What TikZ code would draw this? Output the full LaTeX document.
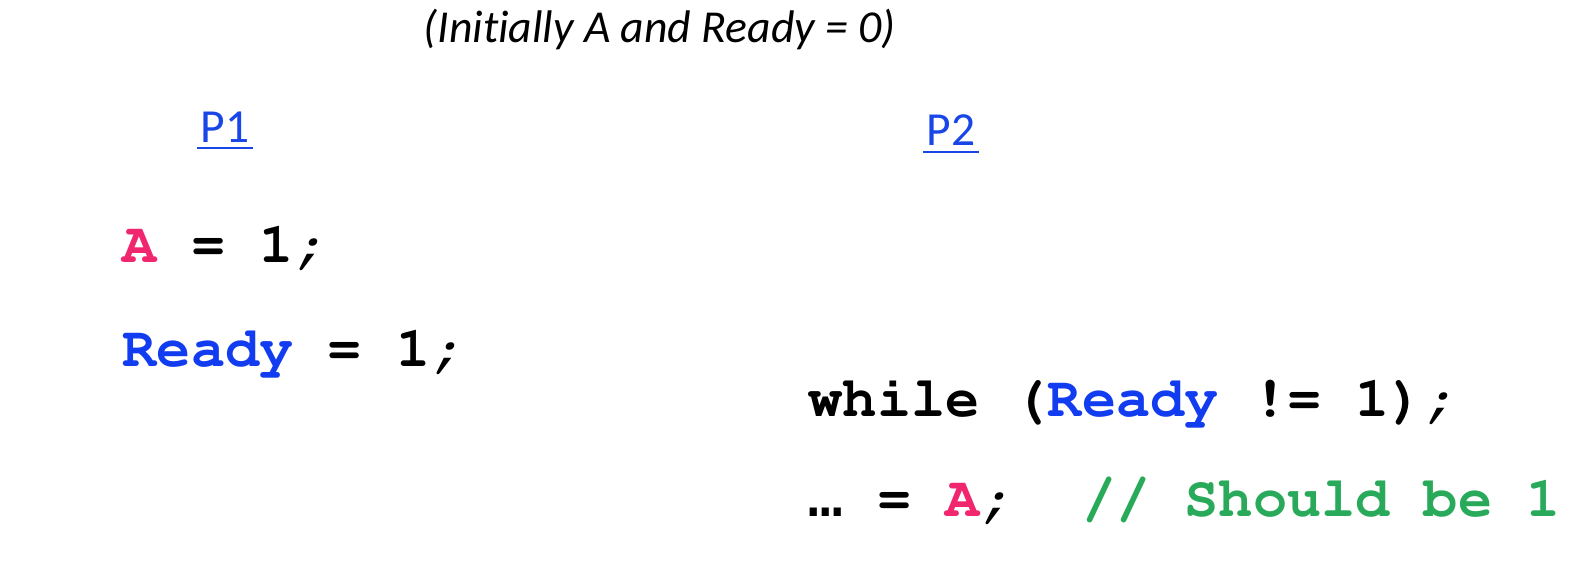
\documentclass[tikz,border=0pt]{standalone}
\usepackage[T1]{fontenc}
\usepackage{fontspec}
\usepackage{tikz}
\usetikzlibrary{positioning}
\newfontfamily\carlito{Carlito}[Ligatures=NoCommon]
\newfontfamily\ellfont{Liberation Mono}
\newcommand{\codefont}{\fontencoding{T1}\fontfamily{pcr}\fontseries{b}\fontshape{n}\fontsize{16.2}{19}\selectfont\frenchspacing}
\newcommand{\dotsmono}{\makebox[0.6em][c]{\ellfont …}}
\newcommand{\semi}{{\fontseries{m}\fontshape{sl}\selectfont;}}
\definecolor{varA}{RGB}{240,38,110}
\definecolor{varReady}{RGB}{18,60,240}
\definecolor{cmnt}{RGB}{40,170,90}
\definecolor{procblue}{RGB}{25,70,230}
\tikzset{
    note/.style={anchor=base west, inner sep=0pt, font=\carlito\itshape\fontsize{13}{15}\selectfont},
    proc/.style={anchor=base west, inner sep=0pt, text=procblue, font=\carlito\fontsize{13.5}{16}\selectfont},
    uline/.style={draw=procblue, line width=0.7pt},
    code/.style={anchor=base west, inner sep=0pt, font=\codefont}
}
\begin{document}
\begin{tikzpicture}[x=0.01cm, y=-0.01cm]
    \useasboundingbox (0,0) rectangle (1594,582);
    % Initial values
    \node[note] (init) at (423,43) {(Initially A and Ready = 0)};
    % Process names, underlined
    \node[proc] (p1) at (200,143) {P1};
    \node[proc] (p2) at (926,146) {P2};
    \draw[uline] ([shift={(-3,5)}]p1.base west) -- ([shift={(3,5)}]p1.base east);
    \draw[uline] ([shift={(-3,6)}]p2.base west) -- ([shift={(3,6)}]p2.base east);
    % Code of P1
    \node[code] (setA) at (122,262) {\textcolor{varA}{A} = 1\semi};
    \node[code] (setReady) at (122,366) {\textcolor{varReady}{Ready} = 1\semi};
    % Code of P2
    \node[code] (spin) at (808,416) {while (\textcolor{varReady}{Ready} != 1)\semi};
    \node[code] (readA) at (808,516) {\dotsmono{} = \textcolor{varA}{A}\semi\ \ \textcolor{cmnt}{// Should be 1}};
\end{tikzpicture}
\end{document}
